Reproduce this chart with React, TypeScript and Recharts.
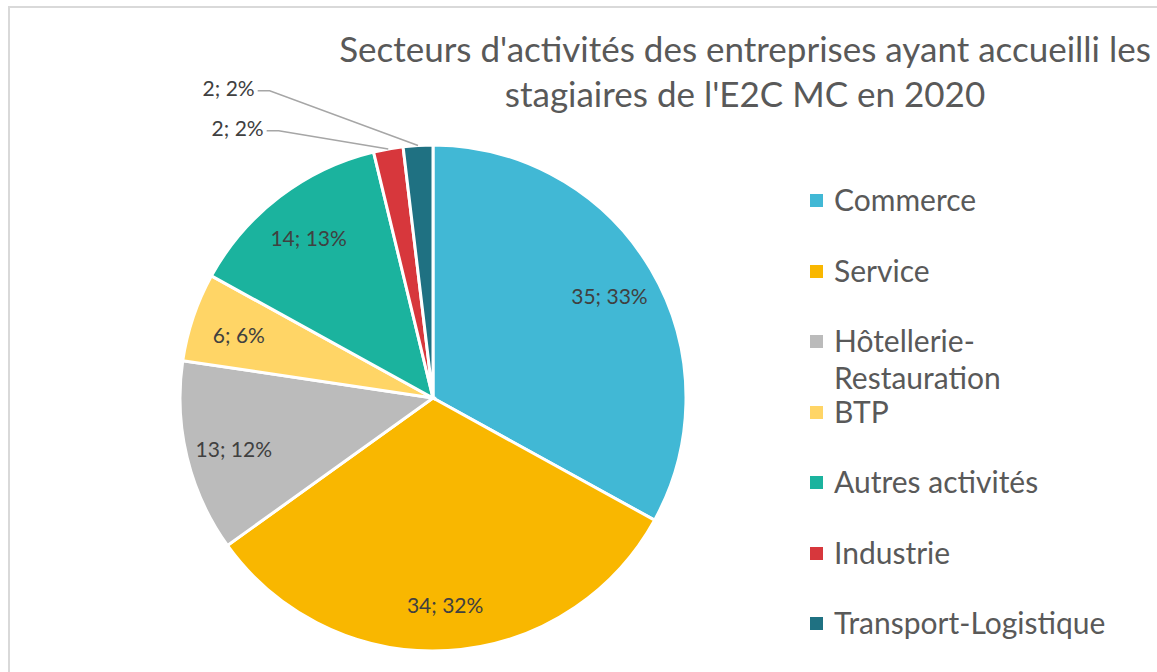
import React from 'react'
import { PieChart, Pie, Cell, Legend } from 'recharts'

const sectors = [
  'Commerce',
  'Service',
  'Hôtellerie-Restauration',
  'BTP',
  'Autres activités',
  'Industrie',
  'Transport-Logistique',
]
const counts = [35, 34, 13, 6, 14, 2, 2]
const colors = ['#41B8D5', '#F9B700', '#BBBBBB', '#FFD566', '#1BB39E', '#D7373C', '#1F7182']
const titleLines = ["Secteurs d'activités des entreprises ayant accueilli les", "stagiaires de l'E2C MC en 2020"]

const data = sectors.map((name, i) => ({ name, value: counts[i] }))
const total = counts.reduce((a, b) => a + b, 0)
const smallIdx = counts.map((v, i) => (v / total < 0.03 ? i : -1)).filter((i) => i >= 0)

const FONT = 'Lato, "Open Sans", sans-serif'
const RAD = Math.PI / 180

function renderLabel(props: any) {
  const { cx, cy, midAngle, outerRadius, percent, value, index } = props
  const text = `${value}; ${Math.round(percent * 100)}%`
  const k = smallIdx.indexOf(index)
  if (k < 0) {
    const r = outerRadius * 0.81
    const x = cx + r * Math.cos(-midAngle * RAD)
    const y = cy + r * Math.sin(-midAngle * RAD) + 2
    return (
      <text x={x} y={y} textAnchor="middle" dominantBaseline="central" fill="#404040" fontSize={21} fontFamily={FONT}>
        {text}
      </text>
    )
  }
  // tiny slices: label outside with a leader line
  const ex = cx + outerRadius * Math.cos(-midAngle * RAD)
  const ey = cy + outerRadius * Math.sin(-midAngle * RAD)
  const er = outerRadius * (1.22 + 0.155 * k)
  const ea = (120 - 2 * k) * RAD
  const bx = cx + er * Math.cos(-ea)
  const by = cy + er * Math.sin(-ea)
  return (
    <g>
      <polyline points={`${ex},${ey} ${bx},${by} ${bx - 12},${by}`} fill="none" stroke="#A6A6A6" strokeWidth={1.5} />
      <text x={bx - 15} y={by - 3} textAnchor="end" dominantBaseline="central" fill="#404040" fontSize={21} fontFamily={FONT}>
        {text}
      </text>
    </g>
  )
}

function LegendContent() {
  return (
    <div style={{ position: 'relative', width: 320, fontFamily: FONT }}>
      {sectors.map((name, i) => (
        <div
          key={name}
          style={{ position: 'absolute', left: 0, top: i * 70.5, display: 'flex', alignItems: 'flex-start' }}
        >
          <span
            style={{
              display: 'inline-block',
              width: 13,
              height: 13,
              marginTop: 13,
              background: colors[i],
              flex: 'none',
            }}
          />
          <span style={{ marginLeft: 11, fontSize: 30, lineHeight: '37px', color: '#595959', maxWidth: 292 }}>
            {name}
          </span>
        </div>
      ))}
    </div>
  )
}

export default function App() {
  return (
    <div style={{ position: 'fixed', left: 0, top: 0, width: 1157, height: 672, overflow: 'hidden', background: '#fff' }}>
      <div
        style={{
          position: 'absolute',
          left: 8,
          top: 6,
          width: 1200,
          height: 720,
          border: '2px solid #D9D9D9',
          boxSizing: 'border-box',
        }}
      />
      <div
        style={{
          position: 'absolute',
          left: 330,
          top: 26,
          width: 830,
          textAlign: 'center',
          fontFamily: FONT,
          fontSize: 35,
          lineHeight: '45px',
          color: '#595959',
          whiteSpace: 'nowrap',
        }}
      >
        {titleLines.map((t) => (
          <div key={t}>{t}</div>
        ))}
      </div>
      <div style={{ position: 'absolute', left: 0, top: 0 }}>
        <PieChart width={1157} height={672} margin={{ top: 0, right: 0, bottom: 0, left: 0 }}>
          <Pie
            data={data}
            dataKey="value"
            nameKey="name"
            cx={433}
            cy={398}
            outerRadius={253}
            startAngle={90}
            endAngle={-270}
            stroke="#FFFFFF"
            strokeWidth={3}
            label={renderLabel}
            labelLine={false}
            isAnimationActive={false}
          >
            {data.map((d, i) => (
              <Cell key={d.name} fill={colors[i]} />
            ))}
          </Pie>
          <Legend
            layout="vertical"
            align="right"
            verticalAlign="top"
            content={<LegendContent />}
            wrapperStyle={{ position: 'absolute', left: 810, top: 181, width: 320 }}
          />
        </PieChart>
      </div>
    </div>
  )
}
